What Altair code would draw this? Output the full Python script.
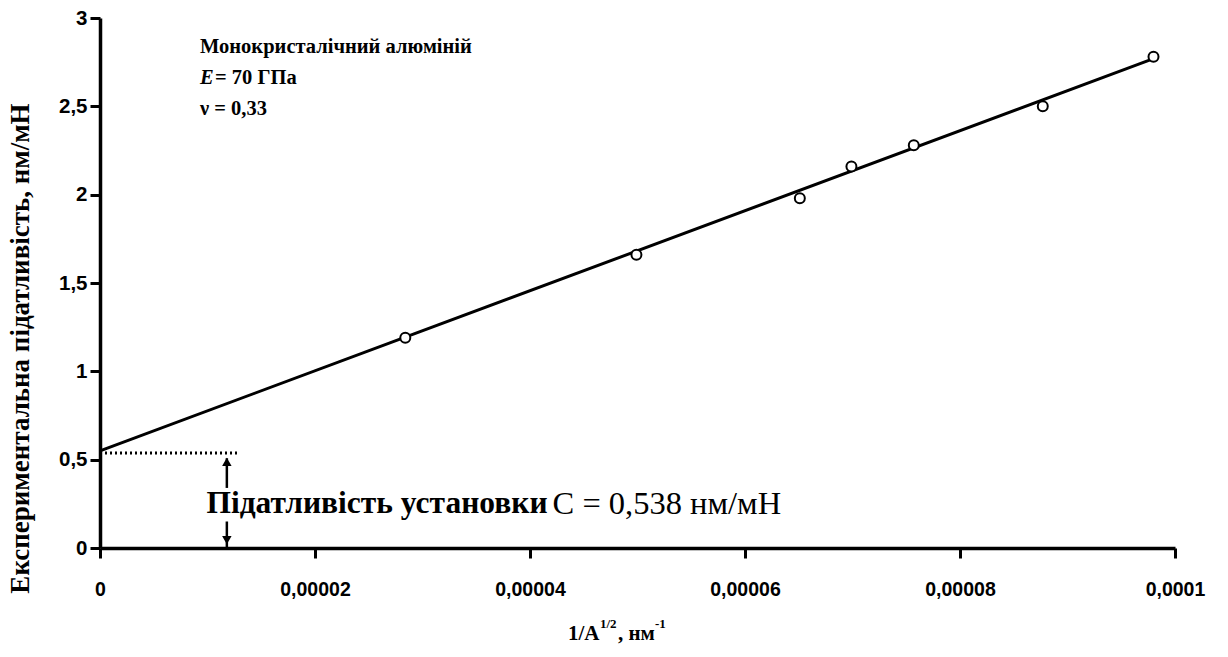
import altair as alt
import pandas as pd

# Measured compliance versus inverse square root of contact area
inv_sqrt_area = [0.0000284, 0.0000499, 0.0000651, 0.0000699, 0.0000757, 0.0000877, 0.0000980]
compliance = [1.19, 1.66, 1.98, 2.16, 2.28, 2.50, 2.78]

# Linear fit through the measurements
fit_x = [0.0, 0.0000980]
fit_y = [0.55, 2.77]

# Machine compliance (intercept)
machine_c = 0.538
marker_x = 0.0000118
dotted_x_end = 0.0000128

font_serif = "Liberation Serif"
font_sans = "Liberation Sans"

W, H = 1075, 530

pts = pd.DataFrame({"x": inv_sqrt_area, "y": compliance})
fit = pd.DataFrame({"x": fit_x, "y": fit_y})

xscale = alt.Scale(domain=[0, 0.0001], nice=False, zero=True)
yscale = alt.Scale(domain=[0, 3], nice=False)

xenc = alt.X(
    "x:Q", scale=xscale, title=None,
    axis=alt.Axis(
        values=[0, 0.00002, 0.00004, 0.00006, 0.00008, 0.0001],
        format=".5~f", labelExpr="replace(datum.label, '.', ',')",
        labelFontSize=19.5, labelPadding=22,
    ),
)
yenc = alt.Y(
    "y:Q", scale=yscale,
    title="Експериментальна підатливість, нм/мН",
    axis=alt.Axis(
        values=[0, 0.5, 1, 1.5, 2, 2.5, 3],
        format="~g", labelExpr="replace(datum.label, '.', ',')",
        labelFontSize=20.5, labelPadding=3,
        titleFont=font_serif, titleFontWeight="bold", titleFontSize=27,
        titleColor="black", titleX=-80, titleY=330, titleAngle=270,
        titleAlign="center", titleBaseline="middle",
    ),
)

fit_line = alt.Chart(fit).mark_line(color="black", strokeWidth=3).encode(x=xenc, y=yenc)

points = alt.Chart(pts).mark_point(
    shape="circle", filled=True, fill="white", stroke="black",
    strokeWidth=2, size=100, opacity=1,
).encode(x="x:Q", y="y:Q")

dotted = alt.Chart(pd.DataFrame({"x": [0.0], "x2": [dotted_x_end], "y": [machine_c]})).mark_rule(
    color="black", strokeWidth=3, strokeDash=[2, 3]
).encode(x="x:Q", x2="x2:Q", y="y:Q")

# Vertical double arrow, broken around the label
arrow_df = pd.DataFrame({
    "x": [marker_x, marker_x],
    "y": [0.34, 0.0],
    "y2": [machine_c - 0.03, 0.15],
})
arrow_shaft = alt.Chart(arrow_df).mark_rule(color="black", strokeWidth=2.5).encode(
    x="x:Q", y="y:Q", y2="y2:Q"
)
heads_df = pd.DataFrame({
    "x": [marker_x, marker_x],
    "y": [machine_c - 0.05, 0.045],
    "shape": ["triangle-up", "triangle-down"],
})
arrow_heads = alt.Chart(heads_df).mark_point(
    filled=True, color="black", size=90, opacity=1
).encode(
    x="x:Q", y="y:Q",
    shape=alt.Shape("shape:N", scale=None, legend=None),
)

label_a = alt.Chart(pd.DataFrame({"x": [0.0000099], "y": [0.25], "t": ["Підатливість установки"]})).mark_text(
    align="left", baseline="middle", font=font_serif, fontSize=31.5, fontWeight="bold", color="black"
).encode(x="x:Q", y="y:Q", text="t:N")
label_b = alt.Chart(pd.DataFrame({"x": [0.0000421], "y": [0.25], "t": ["C = 0,538 нм/мН"]})).mark_text(
    align="left", baseline="middle", font=font_serif, fontSize=32.5, color="black"
).encode(x="x:Q", y="y:Q", text="t:N")

# Material properties
info_style = dict(align="left", baseline="middle", font=font_serif, fontSize=20.5,
                  fontWeight="bold", color="black")
info1 = alt.Chart(pd.DataFrame({"x": [0.0000093], "y": [2.835], "t": ["Монокристалічний алюміній"]})).mark_text(
    **info_style
).encode(x="x:Q", y="y:Q", text="t:N")
info2a = alt.Chart(pd.DataFrame({"x": [0.0000093], "y": [2.66], "t": ["E"]})).mark_text(
    fontStyle="italic", **info_style
).encode(x="x:Q", y="y:Q", text="t:N")
info2b = alt.Chart(pd.DataFrame({"x": [0.0000093], "y": [2.66], "t": ["= 70 ГПа"]})).mark_text(
    dx=15, **info_style
).encode(x="x:Q", y="y:Q", text="t:N")
info3 = alt.Chart(pd.DataFrame({"x": [0.0000093], "y": [2.485], "t": ["ν = 0,33"]})).mark_text(
    **info_style
).encode(x="x:Q", y="y:Q", text="t:N")

# X axis title with superscripts
def title_piece(text, px, py, size):
    return alt.Chart(pd.DataFrame({"t": [text]})).mark_text(
        align="left", baseline="alphabetic", font=font_serif, fontSize=size,
        fontWeight="bold", color="black"
    ).encode(x=alt.value(px), y=alt.value(py), text="t:N")

xt1 = title_piece("1/A", 468, 622, 21)
xt2 = title_piece("1/2", 500, 610, 13)
xt3 = title_piece(", нм", 518, 622, 21)
xt4 = title_piece("-1", 555, 610, 13)

chart = alt.layer(
    fit_line, dotted, arrow_shaft, arrow_heads, points, label_a, label_b,
    info1, info2a, info2b, info3, xt1, xt2, xt3, xt4,
).properties(
    width=W, height=H,
    background="white",
    autosize=alt.AutoSizeParams(type="none"),
    padding={"left": 100, "top": 18, "right": 53, "bottom": 109},
).configure_axis(
    grid=False, domainColor="black", domainWidth=3.5,
    tickColor="black", tickWidth=3, tickSize=10,
    labelFont=font_sans, labelFontWeight="bold", labelColor="black",
    labelFlush=False,
).configure_view(stroke=None)

chart.save("out.html", embed_options={"renderer": "svg", "actions": False})
